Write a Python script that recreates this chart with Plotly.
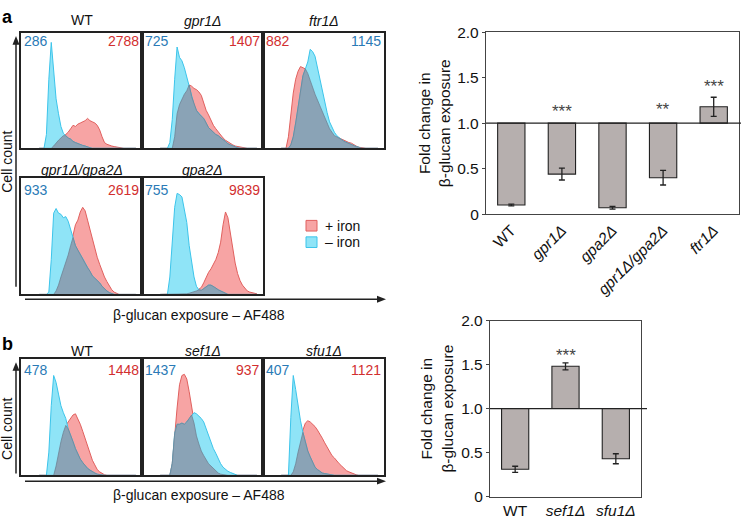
import plotly.graph_objects as go

W, H = 741, 523
FONT = "Liberation Sans, Arial, Helvetica, sans-serif"

# ---------------- data ----------------
# fluorescence channel positions (fraction of the displayed log range)
bins = [0.15, 0.17, 0.19, 0.21, 0.23, 0.25, 0.27, 0.29, 0.31, 0.33,
        0.35, 0.37, 0.39, 0.41, 0.43, 0.45, 0.47, 0.49, 0.51, 0.53,
        0.55, 0.57, 0.59, 0.61, 0.63, 0.65, 0.67, 0.69, 0.71, 0.73,
        0.75, 0.77, 0.79, 0.81, 0.83, 0.85, 0.87, 0.89, 0.91, 0.93, 0.95]

# panel a histograms (relative cell counts), + iron / - iron
wt_a_plus = [0, 0, 0, 0, 0, 0, 0.02, 0.05, 0.07, 0.09, 0.11, 0.12, 0.14, 0.17, 0.20, 0.19, 0.21, 0.22, 0.23, 0.24,
             0.26, 0.24, 0.23, 0.22, 0.20, 0.16, 0.10, 0.05, 0.035, 0.025, 0.02, 0.015, 0.01, 0.005, 0, 0, 0, 0, 0, 0, 0]
wt_a_minus = [0, 0, 0, 0.12, 0.60, 0.92, 0.65, 0.43, 0.30, 0.19, 0.13, 0.11, 0.09, 0.08, 0.06, 0.05, 0.04, 0.03, 0.025, 0.02,
              0.01, 0.005, 0, 0, 0, 0, 0, 0, 0, 0, 0, 0, 0, 0, 0, 0, 0, 0, 0, 0, 0]
gpr1_plus = [0, 0, 0, 0, 0, 0, 0.10, 0.30, 0.38, 0.43, 0.47, 0.50, 0.55, 0.54, 0.52, 0.51, 0.49, 0.46, 0.40, 0.33,
             0.29, 0.24, 0.20, 0.17, 0.14, 0.12, 0.09, 0.07, 0.055, 0.04, 0.03, 0.02, 0.015, 0.01, 0.005, 0, 0, 0, 0, 0, 0]
gpr1_minus = [0, 0, 0, 0, 0.05, 0.25, 0.60, 0.88, 0.79, 0.76, 0.70, 0.62, 0.55, 0.45, 0.38, 0.33, 0.30, 0.28, 0.26, 0.22,
              0.18, 0.16, 0.14, 0.12, 0.11, 0.09, 0.075, 0.06, 0.04, 0.03, 0.02, 0.01, 0.005, 0, 0, 0, 0, 0, 0, 0, 0]
ftr1_plus = [0, 0, 0, 0.10, 0.28, 0.48, 0.60, 0.67, 0.71, 0.70, 0.69, 0.65, 0.59, 0.52, 0.47, 0.42, 0.37, 0.31, 0.26, 0.21,
             0.17, 0.14, 0.11, 0.10, 0.09, 0.075, 0.07, 0.06, 0.05, 0.045, 0.03, 0.02, 0.01, 0.005, 0, 0, 0, 0, 0, 0, 0]
ftr1_minus = [0, 0, 0, 0, 0.03, 0.10, 0.22, 0.36, 0.52, 0.63, 0.69, 0.75, 0.86, 0.84, 0.80, 0.70, 0.59, 0.50, 0.40, 0.31,
              0.23, 0.18, 0.14, 0.11, 0.09, 0.075, 0.06, 0.05, 0.04, 0.03, 0.02, 0.015, 0.01, 0, 0, 0, 0, 0, 0, 0, 0]
gpr1gpa2_plus = [0, 0, 0, 0, 0, 0, 0, 0.03, 0.08, 0.15, 0.21, 0.27, 0.34, 0.42, 0.52, 0.60, 0.64, 0.71, 0.75, 0.72,
                 0.64, 0.56, 0.47, 0.38, 0.32, 0.26, 0.20, 0.15, 0.11, 0.07, 0.04, 0.02, 0.01, 0, 0, 0, 0, 0, 0, 0, 0]
gpr1gpa2_minus = [0, 0, 0, 0, 0.02, 0.30, 0.70, 0.74, 0.70, 0.69, 0.66, 0.67, 0.63, 0.56, 0.49, 0.42, 0.38, 0.35, 0.31, 0.27,
                  0.23, 0.20, 0.16, 0.14, 0.12, 0.10, 0.07, 0.045, 0.03, 0.015, 0.005, 0, 0, 0, 0, 0, 0, 0, 0, 0, 0]
gpa2_plus = [0, 0, 0, 0, 0, 0, 0, 0, 0, 0, 0, 0.005, 0.01, 0.015, 0.02, 0.03, 0.045, 0.06, 0.10, 0.15,
             0.19, 0.22, 0.26, 0.30, 0.36, 0.45, 0.60, 0.71, 0.66, 0.52, 0.38, 0.27, 0.18, 0.12, 0.08, 0.05, 0.03, 0.02, 0.015, 0.01, 0.005]
gpa2_minus = [0, 0, 0, 0, 0.15, 0.45, 0.75, 0.87, 0.86, 0.84, 0.74, 0.62, 0.42, 0.29, 0.15, 0.07, 0.04, 0.035, 0.05, 0.065,
              0.08, 0.08, 0.07, 0.055, 0.04, 0.03, 0.015, 0.005, 0, 0, 0, 0, 0, 0, 0, 0, 0, 0, 0, 0, 0]

# panel b histograms
wt_b_plus = [0, 0, 0, 0, 0, 0, 0, 0.08, 0.20, 0.29, 0.37, 0.43, 0.46, 0.49, 0.52, 0.53, 0.49, 0.44, 0.38, 0.32,
             0.25, 0.19, 0.13, 0.09, 0.05, 0.03, 0.015, 0.005, 0, 0, 0, 0, 0, 0, 0, 0, 0, 0, 0, 0, 0]
wt_b_minus = [0, 0, 0, 0, 0.20, 0.60, 0.86, 0.80, 0.70, 0.60, 0.54, 0.49, 0.40, 0.35, 0.29, 0.23, 0.18, 0.14, 0.11, 0.08,
              0.06, 0.045, 0.03, 0.02, 0.01, 0.005, 0, 0, 0, 0, 0, 0, 0, 0, 0, 0, 0, 0, 0, 0, 0]
sef1_plus = [0, 0, 0, 0, 0, 0.10, 0.38, 0.58, 0.78, 0.86, 0.87, 0.83, 0.72, 0.60, 0.45, 0.34, 0.27, 0.21, 0.17, 0.13,
             0.10, 0.08, 0.06, 0.04, 0.02, 0.01, 0.005, 0, 0, 0, 0, 0, 0, 0, 0, 0, 0, 0, 0, 0, 0]
sef1_minus = [0, 0, 0, 0, 0, 0.10, 0.36, 0.44, 0.44, 0.45, 0.44, 0.46, 0.49, 0.52, 0.54, 0.53, 0.51, 0.49, 0.46, 0.40,
              0.34, 0.28, 0.23, 0.19, 0.14, 0.10, 0.07, 0.05, 0.035, 0.025, 0.015, 0.005, 0, 0, 0, 0, 0, 0, 0, 0, 0]
sfu1_plus = [0, 0, 0, 0, 0, 0.03, 0.10, 0.20, 0.30, 0.39, 0.45, 0.47, 0.46, 0.44, 0.42, 0.39, 0.36, 0.32, 0.28, 0.24,
             0.20, 0.17, 0.15, 0.12, 0.10, 0.08, 0.06, 0.04, 0.03, 0.02, 0.01, 0.005, 0, 0, 0, 0, 0, 0, 0, 0, 0]
sfu1_minus = [0, 0, 0, 0, 0.50, 0.86, 0.74, 0.58, 0.47, 0.37, 0.29, 0.21, 0.16, 0.11, 0.07, 0.05, 0.035, 0.02, 0.015, 0.01,
              0.005, 0, 0, 0, 0, 0, 0, 0, 0, 0, 0, 0, 0, 0, 0, 0, 0, 0, 0, 0, 0]

hist_titles = ["WT", "gpr1Δ", "ftr1Δ", "gpr1Δ/gpa2Δ", "gpa2Δ", "WT", "sef1Δ", "sfu1Δ"]
hist_plus = [wt_a_plus, gpr1_plus, ftr1_plus, gpr1gpa2_plus, gpa2_plus, wt_b_plus, sef1_plus, sfu1_plus]
hist_minus = [wt_a_minus, gpr1_minus, ftr1_minus, gpr1gpa2_minus, gpa2_minus, wt_b_minus, sef1_minus, sfu1_minus]
mfi_plus = [2788, 1407, 882, 2619, 9839, 1448, 937, 1121]
mfi_minus = [286, 725, 1145, 933, 755, 478, 1437, 407]
minus_on_left = [True, True, False, True, True, True, True, True]

# bar charts: fold change (+iron vs -iron)
bar_a_labels = ["WT", "gpr1Δ", "gpa2Δ", "gpr1Δ/gpa2Δ", "ftr1Δ"]
bar_a_values = [0.10, 0.44, 0.07, 0.40, 1.18]
bar_a_err = [0.01, 0.065, 0.015, 0.08, 0.105]
bar_a_sig = ["", "***", "", "**", "***"]

bar_b_labels = ["WT", "sef1Δ", "sfu1Δ"]
bar_b_values = [0.31, 1.48, 0.43]
bar_b_err = [0.035, 0.04, 0.057]
bar_b_sig = ["", "***", ""]

y_ticks = [0, 0.5, 1.0, 1.5, 2.0]
y_ticktext = ["0", "0.5", "1.0", "1.5", "2.0"]

# ---------------- styling ----------------
RED_FILL = "#f7a4a4"
RED_LINE = "#e0605e"
BLUE_FILL = "#8fe4f7"
BLUE_LINE = "#3cc4ea"
OVL_FILL = "#8aa3b6"
OVL_LINE = "#6e8394"
NUM_BLUE = "#2a7ab6"
NUM_RED = "#d22f2f"
BAR_FILL = "#b6afae"
INK = "#222222"
HF = 14      # histogram text size
BF = 15.5    # bar chart text size


def fx(px):
    return px / W


def fy(py):
    return 1 - py / H


def ital(s):
    return s if s == "WT" else "<i>" + s + "</i>"


fig = go.Figure()
layout = {}
annotations = []
shapes = []

# histogram boxes in pixels: (left, right, top, bottom), title y, number y
boxes = [
    (21, 142, 25, 144, 11, 33),
    (142, 263, 25, 144, 12, 33),
    (263, 384, 25, 144, 12, 33),
    (21, 142, 175, 295, 166, 187),
    (142, 263, 175, 295, 166, 187),
    (21, 142, 362, 482, 353, 373),
    (142, 263, 362, 482, 353, 373),
    (263, 384, 362, 482, 353, 373),
]

for i in range(8):
    k = i + 1
    xa = "x" if k == 1 else f"x{k}"
    ya = "y" if k == 1 else f"y{k}"
    plus = hist_plus[i]
    minus = hist_minus[i]
    overlap = [min(p, m) for p, m in zip(plus, minus)]
    fig.add_trace(go.Scatter(x=bins, y=plus, xaxis=xa, yaxis=ya, mode="lines", fill="tozeroy",
                             fillcolor=RED_FILL, line=dict(color=RED_LINE, width=1), hoverinfo="skip",
                             showlegend=False))
    fig.add_trace(go.Scatter(x=bins, y=minus, xaxis=xa, yaxis=ya, mode="lines", fill="tozeroy",
                             fillcolor=BLUE_FILL, line=dict(color=BLUE_LINE, width=1), hoverinfo="skip",
                             showlegend=False))
    fig.add_trace(go.Scatter(x=bins, y=overlap, xaxis=xa, yaxis=ya, mode="lines", fill="tozeroy",
                             fillcolor=OVL_FILL, line=dict(color=OVL_LINE, width=0.8), hoverinfo="skip",
                             showlegend=False))
    l, r, t, b, ty, ny = boxes[i]
    axstyle = dict(showgrid=False, zeroline=False, showticklabels=False, ticks="",
                   showline=True, mirror=True, linecolor=INK, linewidth=1.6, fixedrange=True)
    layout[f"xaxis{k}"] = dict(domain=[fx(l), fx(r)], range=[0, 1], anchor=ya, **axstyle)
    layout[f"yaxis{k}"] = dict(domain=[fy(b), fy(t)], range=[0, 1.0], anchor=xa, **axstyle)
    annotations.append(dict(x=fx((l + r) / 2), y=fy(ty), xref="paper", yref="paper", text=ital(hist_titles[i]),
                            showarrow=False, font=dict(size=HF, color="#111"), xanchor="center", yanchor="middle"))
    if minus_on_left[i]:
        lt, lc, rt, rc = mfi_minus[i], NUM_BLUE, mfi_plus[i], NUM_RED
    else:
        lt, lc, rt, rc = mfi_plus[i], NUM_RED, mfi_minus[i], NUM_BLUE
    annotations.append(dict(x=fx(l + 1), y=fy(ny), xref="paper", yref="paper", text=str(lt), showarrow=False,
                            font=dict(size=HF, color=lc), xanchor="left", yanchor="middle"))
    annotations.append(dict(x=fx(r - 1), y=fy(ny), xref="paper", yref="paper", text=str(rt), showarrow=False,
                            font=dict(size=HF, color=rc), xanchor="right", yanchor="middle"))


def path(points):
    return "M " + " L ".join(f"{fx(px)},{fy(py)}" for px, py in points) + " Z"


# axes arrows / labels for histogram groups
for (vx, vtop, vbot, hy, hx0, hx1, cc_y, lab_y) in [(16, 28, 287, 300, 25, 386, 158, 316),
                                                     (16, 365, 480, 488, 25, 386, 434, 502)]:
    shapes.append(dict(type="line", xref="paper", yref="paper", x0=fx(vx), x1=fx(vx), y0=fy(vbot), y1=fy(vtop + 6),
                       line=dict(color=INK, width=1.5)))
    shapes.append(dict(type="path", xref="paper", yref="paper",
                       path=path([(vx, vtop), (vx - 3.5, vtop + 9), (vx + 3.5, vtop + 9)]),
                       fillcolor=INK, line=dict(width=0)))
    shapes.append(dict(type="line", xref="paper", yref="paper", x0=fx(hx0), x1=fx(hx1 - 6), y0=fy(hy), y1=fy(hy),
                       line=dict(color=INK, width=1.5)))
    shapes.append(dict(type="path", xref="paper", yref="paper",
                       path=path([(hx1, hy), (hx1 - 9, hy - 3.5), (hx1 - 9, hy + 3.5)]),
                       fillcolor=INK, line=dict(width=0)))
    annotations.append(dict(x=fx(7), y=fy(cc_y), xref="paper", yref="paper", text="Cell count", textangle=-90,
                            showarrow=False, font=dict(size=HF, color="#111"), xanchor="center", yanchor="middle"))
    annotations.append(dict(x=fx(199), y=fy(lab_y), xref="paper", yref="paper", text="β-glucan exposure – AF488",
                            showarrow=False, font=dict(size=HF, color="#111"), xanchor="center", yanchor="middle"))

# legend
for (sy, fc, lc, txt) in [(224, RED_FILL, RED_LINE, "+ iron"), (241, BLUE_FILL, BLUE_LINE, "– iron")]:
    shapes.append(dict(type="rect", xref="paper", yref="paper", x0=fx(306), x1=fx(317), y0=fy(sy + 5.5),
                       y1=fy(sy - 5.5), fillcolor=fc, line=dict(color=lc, width=1)))
    annotations.append(dict(x=fx(323), y=fy(sy), xref="paper", yref="paper", text=txt, showarrow=False,
                            font=dict(size=HF, color="#111"), xanchor="left", yanchor="middle"))

# panel letters
annotations.append(dict(x=fx(0), y=fy(8), xref="paper", yref="paper", text="<b>a</b>", showarrow=False,
                        font=dict(size=18, color="#000"), xanchor="left", yanchor="middle"))
annotations.append(dict(x=fx(0), y=fy(346), xref="paper", yref="paper", text="<b>b</b>", showarrow=False,
                        font=dict(size=18, color="#000"), xanchor="left", yanchor="middle"))

# ---------------- bar charts ----------------
bar_specs = [
    (9, bar_a_labels, bar_a_values, bar_a_err, bar_a_sig, (486, 739, 24, 212), 741, -45, 434, [1.13, 1.13, 1.13, 1.153, 1.40]),
    (10, bar_b_labels, bar_b_values, bar_b_err, bar_b_sig, (490, 641, 322, 504), 647, 0, 437, [1.598, 1.598, 1.598]),
]
for (k, labels, vals, errs, sig, (l, r, t, b), line_end, angle, ytitle_x, star_y) in bar_specs:
    xa, ya = f"x{k}", f"y{k}"
    fig.add_trace(go.Bar(x=labels, y=[v - 1.0 for v in vals], base=1.0, xaxis=xa, yaxis=ya, width=0.54,
                         marker=dict(color=BAR_FILL, line=dict(color=INK, width=1.1)),
                         error_y=dict(type="data", array=errs, visible=True, color=INK, thickness=1.3, width=3),
                         hoverinfo="skip", showlegend=False))
    layout[f"xaxis{k}"] = dict(domain=[fx(l), fx(r)], anchor=ya, type="category", range=[-0.5, len(labels) - 0.5],
                               tickvals=labels, ticktext=[ital(s) for s in labels], tickangle=angle,
                               showline=True, mirror=True, linecolor="#444", linewidth=1.3, ticks="",
                               showgrid=False, zeroline=False, tickfont=dict(size=BF, color="#111"), fixedrange=True)
    layout[f"yaxis{k}"] = dict(domain=[fy(b), fy(t)], anchor=xa, range=[0, 2.0], tickvals=y_ticks,
                               ticktext=y_ticktext, showline=True, mirror=True, linecolor="#444", linewidth=1.3,
                               ticks="outside", ticklen=3, tickcolor="#444", showgrid=False, zeroline=False,
                               tickfont=dict(size=BF, color="#111"), fixedrange=True)
    shapes.append(dict(type="line", xref="paper", yref=ya, x0=fx(l), x1=fx(line_end), y0=1.0, y1=1.0,
                       line=dict(color=INK, width=1.3)))
    for lab, s, sy in zip(labels, sig, star_y):
        if s:
            annotations.append(dict(x=lab, y=sy, xref=xa, yref=ya, text=s, showarrow=False,
                                    font=dict(size=17, color="#444"), xanchor="center", yanchor="middle"))
    annotations.append(dict(x=fx(ytitle_x), y=fy((t + b) / 2), xref="paper", yref="paper",
                            text="Fold change in<br>β-glucan exposure", textangle=-90, showarrow=False,
                            font=dict(size=BF, color="#111"), xanchor="center", yanchor="middle"))

fig.update_layout(
    width=W, height=H, autosize=False,
    margin=dict(l=0, r=0, t=0, b=0),
    paper_bgcolor="white", plot_bgcolor="rgba(0,0,0,0)",
    font=dict(family=FONT, size=13, color="#111"),
    showlegend=False, barmode="overlay",
    annotations=annotations, shapes=shapes,
    **layout,
)

fig.write_html("out.html", config={"displayModeBar": False},
               post_script="document.body.style.margin='0';document.body.style.overflow='hidden';")
